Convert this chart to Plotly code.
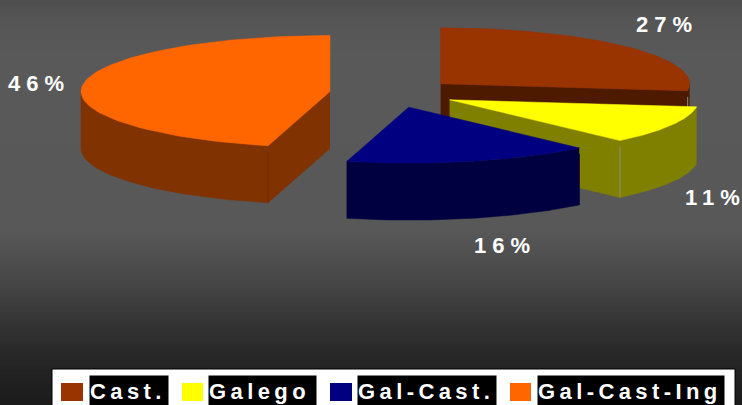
import numpy as np
import plotly.graph_objects as go

categories = ["Cast.", "Galego", "Gal-Cast.", "Gal-Cast-Ing"]
values = [27, 11, 16, 46]
top_colors = ["#993300", "#FFFF00", "#000080", "#FF6600"]
side_colors = ["#4D1A00", "#808000", "#000040", "#803300"]
seam_colors = ["#8A8A80", "#8F8F80", "#000040", "#702C00"]
draw_order = [0, 3, 1, 2]

W, H = 742, 405
CX, CY, RX, RY, DEPTH, EXPLODE = 393.0, 93.3, 249.0, 56.0, 57.0, 63.5

fig = go.Figure()

# background gradient
grad_y = [0, 20, 60, 230, 280, 330, 370, 405]
grad_v = [78, 86, 90, 88, 72, 50, 35, 28]
shapes = []
for y in range(0, H, 3):
    g = int(np.interp(y + 1.5, grad_y, grad_v))
    shapes.append(dict(type="rect", xref="x", yref="y", x0=0, x1=W, y0=y, y1=y + 3,
                       fillcolor=f"rgb({g},{g},{g})", line_width=0, layer="below"))

total = sum(values)
edges = np.concatenate([[0], np.cumsum(values)]) / total * 2 * np.pi
annotations = []


def poly(xs, ys, color):
    fig.add_trace(go.Scatter(x=xs, y=ys, mode="lines", fill="toself", fillcolor=color,
                             line=dict(color=color, width=0.5), hoverinfo="skip", showlegend=False))


for i in draw_order:
    a0, a1 = edges[i], edges[i + 1]
    mid = (a0 + a1) / 2
    ax = CX + EXPLODE * np.sin(mid)
    ay = CY - EXPLODE * (RY / RX) * np.cos(mid)
    t = np.linspace(a0, a1, 90)
    ex, ey = ax + RX * np.sin(t), ay - RY * np.cos(t)
    # radial cut faces seen from the front
    if np.sin(a0) < -1e-6:
        px, py = ax + RX * np.sin(a0), ay - RY * np.cos(a0)
        poly([ax, px, px, ax], [ay, py, py + DEPTH, ay + DEPTH], side_colors[i])
    if np.sin(a1) > 1e-6:
        px, py = ax + RX * np.sin(a1), ay - RY * np.cos(a1)
        poly([ax, px, px, ax], [ay, py, py + DEPTH, ay + DEPTH], side_colors[i])
    # front part of the rim
    front = np.cos(t) <= 0.02
    if front.any():
        fx, fy = ex[front], ey[front]
        poly(np.r_[fx, fx[::-1]], np.r_[fy, fy[::-1] + DEPTH], side_colors[i])
    # seam between cut face and rim
    seam_a = a1 if np.sin(a1) > 1e-6 else a0
    sx, sy = ax + RX * np.sin(seam_a), ay - RY * np.cos(seam_a)
    fig.add_trace(go.Scatter(x=[sx, sx], y=[sy + 6, sy + DEPTH], mode="lines",
                             line=dict(color=seam_colors[i], width=1),
                             hoverinfo="skip", showlegend=False))
    # top face
    poly(np.r_[ax, ex, ax], np.r_[ay, ey, ay], top_colors[i])

# percent labels
label_pos = [(667, 24), (715, 197), (505, 245), (39, 83)]
for i, v in enumerate(values):
    lx, ly = label_pos[i]
    annotations.append(dict(x=lx, y=ly, xref="x", yref="y", text=f"{v}%", showarrow=False,
                            xanchor="center", yanchor="middle",
                            font=dict(family="Liberation Sans", size=22, color="white", weight="bold")))

# legend
shapes.append(dict(type="rect", xref="x", yref="y", x0=52, x1=735, y0=369, y1=410,
                   fillcolor="white", line=dict(color="black", width=1), layer="above"))
swatch_x = [61, 182, 330, 510]
swatch_w = [22, 21, 22, 21]
box_x = [89, 208, 357, 537]
box_w = [78, 107, 138, 186]
for i, c in enumerate(categories):
    shapes.append(dict(type="rect", xref="x", yref="y", x0=swatch_x[i], x1=swatch_x[i] + swatch_w[i],
                       y0=383, y1=401, fillcolor=top_colors[i], line_width=0, layer="above"))
    annotations.append(dict(x=box_x[i], y=375, xref="x", yref="y", text=c, showarrow=False,
                            xanchor="left", yanchor="top", width=box_w[i], height=30, align="left",
                            bgcolor="black", borderpad=0,
                            font=dict(family="Liberation Sans", size=22, color="white", weight="bold")))

fig.update_layout(
    width=W, height=H, margin=dict(l=0, r=0, t=0, b=0), showlegend=False,
    paper_bgcolor="#585858", plot_bgcolor="rgba(0,0,0,0)",
    xaxis=dict(range=[0, W], visible=False, fixedrange=True),
    yaxis=dict(range=[H, 0], visible=False, fixedrange=True),
    shapes=shapes, annotations=annotations,
)

post = """
document.body.style.margin='0';
document.body.style.overflow='hidden';
document.querySelectorAll('.annotation-text').forEach(function(t){
  t.style.letterSpacing = (t.textContent.indexOf('%')>=0 ? '6px' : '4.4px');
});
"""
fig.write_html("out.html", post_script=post, config=dict(displayModeBar=False))
